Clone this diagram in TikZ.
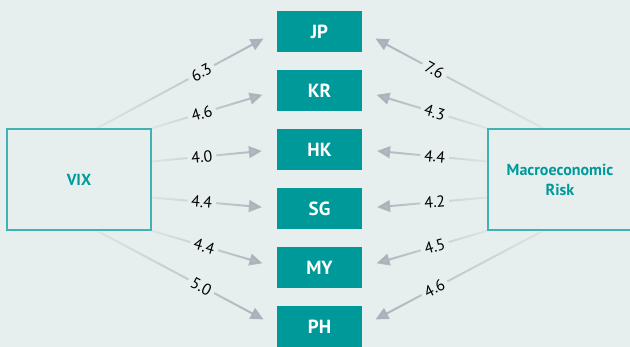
\documentclass[tikz,border=0pt]{standalone}
\usepackage{fontspec}
\setmainfont{PT Sans}
\usetikzlibrary{positioning}
\usetikzlibrary{arrows.meta}
\usetikzlibrary{fadings}

\definecolor{bgcol}{HTML}{E7EFEE}
\definecolor{boxteal}{HTML}{00999A}
\definecolor{linkgray}{HTML}{A8AFB8}

\tikzfading[name=fromleft, left color=transparent!85, middle color=transparent!0, right color=transparent!0]
\tikzfading[name=fromright, left color=transparent!0, middle color=transparent!0, right color=transparent!85]

\begin{document}
\begin{tikzpicture}[x=1pt,y=-1pt,
  country/.style={fill=boxteal, text=white, font=\bfseries\fontsize{19}{22}\selectfont,
    minimum width=85pt, minimum height=41pt, inner sep=0pt},
  factor/.style={draw=boxteal!75, line width=1.5pt, fill=bgcol, text=boxteal,
    font=\bfseries\fontsize{16}{20}\selectfont, minimum width=144pt, minimum height=101pt, align=center},
  link/.style={draw=linkgray, line width=2pt, -{Triangle[length=13pt,width=12pt]}, shorten >=15pt},
  weight/.style={sloped, fill=bgcol, text=black, font=\fontsize{16}{19}\selectfont, inner sep=4pt}]

  % Background
  \useasboundingbox (0,0) rectangle (630,347);
  \fill[bgcol] (0,0) rectangle (630,347);

  % Countries
  \foreach \name/\lbl [count=\i from 0] in {jp/JP,kr/KR,hk/HK,sg/SG,my/MY,ph/PH}
    \node[country] (\name) at (319.5,{31.5+59*\i}) {\lbl};

  % Factors
  \node[factor] (vix) at (79,179.5) {VIX};
  \node[factor] (macro) at (560,179.5) {Macroeconomic\\Risk};

  % Link start points
  \coordinate (v1) at ([xshift=18pt]vix.north);
  \coordinate (v2) at (vix.north east);
  \coordinate (v3) at ([yshift=18pt]vix.east);
  \coordinate (v4) at ([yshift=-18pt]vix.east);
  \coordinate (v5) at (vix.south east);
  \coordinate (v6) at ([xshift=18pt]vix.south);
  \coordinate (m1) at ([xshift=-17pt]macro.north);
  \coordinate (m2) at (macro.north west);
  \coordinate (m3) at ([yshift=18pt]macro.west);
  \coordinate (m4) at ([yshift=-18pt]macro.west);
  \coordinate (m5) at (macro.south west);
  \coordinate (m6) at ([xshift=-17pt]macro.south);

  % VIX links
  \foreach \src/\dst/\p/\val in {v1/jp/0.58/6.3, v2/kr/0.40/4.6, v3/hk/0.40/4.0,
                                 v4/sg/0.40/4.4, v5/my/0.42/4.4, v6/ph/0.58/5.0} {
    \draw[link, path fading=fromleft] (\src) -- (\dst.west);
    \path (\src) -- node[weight, pos=\p] {\val} (\dst.west);
  }

  % Macroeconomic risk links
  \foreach \src/\dst/\p/\val in {m1/jp/0.60/7.6, m2/kr/0.42/4.3, m3/hk/0.42/4.4,
                                 m4/sg/0.42/4.2, m5/my/0.42/4.5, m6/ph/0.60/4.6} {
    \draw[link, path fading=fromright] (\src) -- (\dst.east);
    \path (\src) -- node[weight, pos=\p] {\val} (\dst.east);
  }
\end{tikzpicture}
\end{document}
